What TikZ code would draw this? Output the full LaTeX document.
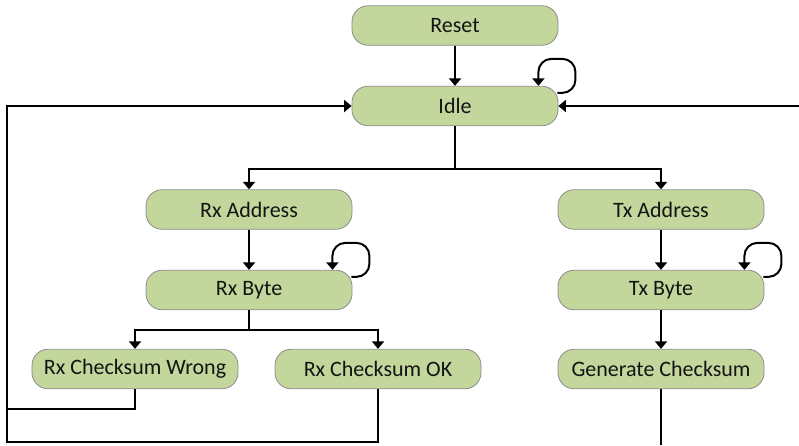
\documentclass[tikz,border=0pt]{standalone}
\usepackage{fontspec}
\setmainfont{Carlito}
\usetikzlibrary{arrows.meta}
\definecolor{statefill}{HTML}{C3D69B}
\definecolor{stateline}{HTML}{8C8C8C}
\definecolor{statetext}{HTML}{141414}
\begin{document}
\begin{tikzpicture}[x=1pt,y=-1pt,
  state/.style={rectangle, rounded corners=16pt, minimum width=206pt,
    minimum height=39.5pt, inner sep=0pt, fill=statefill, draw=stateline,
    line width=0.8pt, text=statetext, font=\fontsize{22}{24}\selectfont},
  wire/.style={line width=2pt, line join=miter},
  arr/.style={wire, -{Triangle[width=12pt,length=7.5pt]}},
  loopwire/.style={arr, rounded corners=13pt}]
\useasboundingbox (0,0) rectangle (799,445);

% states
\node[state] (reset) at (455,25.5) {Reset};
\node[state] (idle)  at (455,106)  {Idle};
\node[state] (rxa)   at (249,209.5) {Rx Address};
\node[state] (txa)   at (661,209.5) {Tx Address};
\node[state] (rxb)   at (249,290)  {Rx Byte};
\node[state] (txb)   at (661,290) {Tx Byte};
\node[state] (wrong) at (135,369)  {Rx Checksum Wrong};
\node[state] (ok)    at (378,369)  {Rx Checksum OK};
\node[state] (gen)   at (661,369) {Generate Checksum};

% open ends at the picture border
\coordinate (rin)  at (799,106);
\coordinate (gout) at (661,445);

% main flow
\draw[arr] (reset) -- (idle);
\draw[arr] (idle.south) -- ++(0,43) -| (rxa.north);
\draw[arr] (idle.south) -- ++(0,43) -| (txa.north);
\draw[arr] (rxa) -- (rxb);
\draw[arr] (txa) -- (txb);
\draw[arr] (txb) -- (gen);
\draw[arr] (rxb.south) -- ++(0,20) -| (wrong.north);
\draw[arr] (rxb.south) -- ++(0,20) -| (ok.north);

% self loops
\draw[loopwire] ([xshift=-1pt,yshift=-7pt]idle.north east) -| ++(18,-34) -| ([xshift=-20pt]idle.north east);
\draw[loopwire] ([xshift=-1pt,yshift=-7pt]rxb.north east) -| ++(18,-34) -| ([xshift=-20pt]rxb.north east);
\draw[loopwire] ([xshift=-1pt,yshift=-7pt]txb.north east) -| ++(18,-34) -| ([xshift=-20pt]txb.north east);

% returns to Idle
\draw[arr] (wrong.south) |- (7,409) |- (idle.west);
\draw[wire] (ok.south) |- (7,442) -- (7,409);
\draw[arr] (rin) -- (idle.east);
\draw[wire] (gen.south) -- (gout);
\end{tikzpicture}
\end{document}
